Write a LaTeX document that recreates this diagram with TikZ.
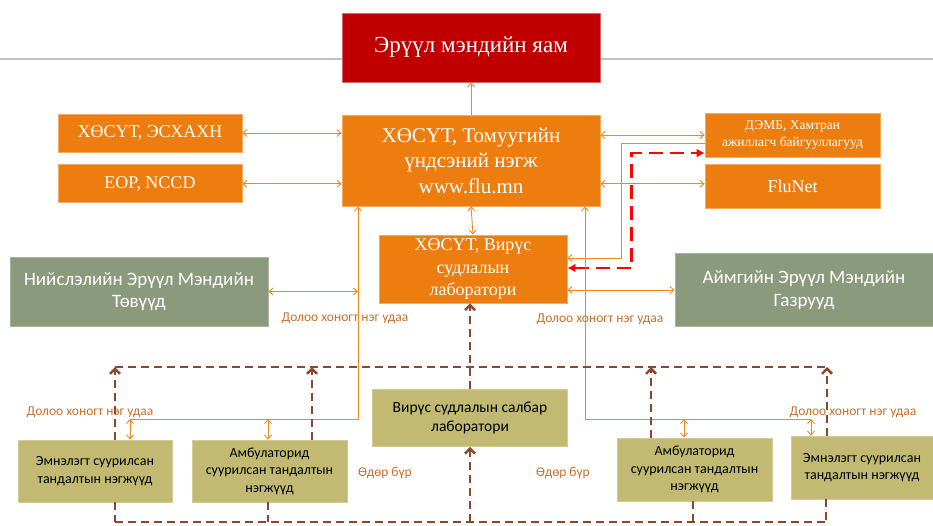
\documentclass[tikz,border=0pt]{standalone}
\usepackage{fontspec}
\setmainfont{Liberation Serif}
\setsansfont{Carlito}
\usetikzlibrary{arrows.meta,positioning}
\definecolor{moh}{RGB}{192, 0, 0}
\definecolor{orng}{RGB}{236, 125, 14}
\definecolor{sage}{RGB}{139, 154, 124}
\definecolor{khaki}{RGB}{194, 186, 114}
\definecolor{link}{RGB}{237, 137, 30}
\definecolor{brwn}{RGB}{140, 72, 44}
\definecolor{note}{RGB}{205, 110, 40}
\tikzstyle{mohbox} = [rectangle, fill=moh, draw=moh!60!white, line width=0.8pt, text=white, font=\fontsize{23}{27}\selectfont, align=center]
\tikzstyle{serifbox} = [rectangle, fill=orng, draw=orng!65!white, line width=0.8pt, text=white, font=\fontsize{18}{22.5}\selectfont, align=center]
\tikzstyle{sagebox} = [rectangle, fill=sage, draw=sage!75!white, line width=0.8pt, text=white, font=\sffamily\fontsize{19}{22.5}\selectfont, align=center]
\tikzstyle{unit} = [rectangle, fill=khaki, draw=khaki!75!white, line width=0.8pt, text=black, font=\sffamily\fontsize{14}{17.5}\selectfont, align=center]
\tikzstyle{freq} = [text=note, font=\sffamily\fontsize{13.5}{15}\selectfont, inner sep=1pt]
\tikzstyle{tedge} = [draw, link, line width=0.9pt, {Straight Barb[length=4pt,width=7pt]}-{Straight Barb[length=4pt,width=7pt]}]
\tikzstyle{oneway} = [draw, link, line width=0.9pt, -{Straight Barb[length=4pt,width=7pt]}]
\tikzstyle{report} = [draw, brwn, line width=2.5pt, dash pattern=on 8pt off 5pt, -{Straight Barb[length=5pt,width=10pt]}]
\tikzstyle{bus} = [draw, brwn, line width=2.5pt, dash pattern=on 8pt off 5pt]
\tikzstyle{urgent} = [draw, red, line width=2.5pt, dash pattern=on 14pt off 7pt, {Latex[length=8pt,width=9pt]}-{Latex[length=8pt,width=9pt]}]

\begin{document}
\begin{tikzpicture}[x=1pt, y=-1pt]
\useasboundingbox (0,0) rectangle (933,525);

% rule behind the ministry =============================
\coordinate (rulel) at (0,59);
\coordinate (ruler) at (933,59);
\draw[black!25, line width=1.5pt] (rulel) -- (ruler);

% national level
\node[mohbox, minimum width=258pt, minimum height=69pt] (moh) at (471,47.5) {Эрүүл мэндийн яам};
\node[serifbox, minimum width=258pt, minimum height=91pt, font=\fontsize{21}{25.5}\selectfont] (main) at (471,160.5) {ХӨСҮТ, Томуугийн\\үндсэний нэгж\\www.flu.mn};
\node[serifbox, minimum width=184pt, minimum height=38pt] (esx) at (150,133) {ХӨСҮТ, ЭСХАХН};
\node[serifbox, minimum width=184pt, minimum height=38pt, below=12pt of esx] (eop) {EOP, NCCD};
\node[serifbox, minimum width=175pt, minimum height=44pt, font=\fontsize{13.5}{17}\selectfont] (who) at (792.5,135) {ДЭМБ, Хамтран\\ажиллагч байгууллагууд};
\node[serifbox, minimum width=175pt, minimum height=44pt, below=7pt of who] (flunet) {FluNet};
\node[serifbox, minimum width=188pt, minimum height=68pt] (lab) at (473,269) {ХӨСҮТ, Вирүс\\судлалын\\лаборатори};

% regional level
\node[sagebox, minimum width=258pt, minimum height=69pt] (nisl) at (139,291.5) {Нийслэлийн Эрүүл Мэндийн\\Төвүүд};
\node[sagebox, minimum width=258pt, minimum height=73pt] (aim) at (804,290) {Аймгийн Эрүүл Мэндийн\\Газрууд};

% surveillance units
\node[unit, minimum width=195pt, minimum height=57pt, font=\sffamily\fontsize{15.5}{18.5}\selectfont] (salbar) at (470,418) {Вирүс судлалын салбар\\лаборатори};
\node[unit, minimum width=154pt, minimum height=62pt] (emnL) at (95,471) {Эмнэлэгт суурилсан\\тандалтын нэгжүүд};
\node[unit, minimum width=155pt, minimum height=62pt] (ambL) at (269.5,471) {Амбулаторид\\суурилсан тандалтын\\нэгжүүд};
\node[unit, minimum width=155pt, minimum height=63pt] (ambR) at (694.5,469.5) {Амбулаторид\\суурилсан тандалтын\\нэгжүүд};
\node[unit, minimum width=142pt, minimum height=63pt] (emnR) at (862,467.5) {Эмнэлэгт суурилсан\\тандалтын нэгжүүд};

% frequency labels
\node[freq] (wk1) at (345,318) {Долоо хоногт нэг удаа};
\node[freq] (wk2) at (600,319) {Долоо хоногт нэг удаа};
\node[freq] (wk3) at (90,412) {Долоо хоногт нэг удаа};
\node[freq] (wk4) at (853,412) {Долоо хоногт нэг удаа};
\node[freq] (day1) at (385,473) {Өдөр бүр};
\node[freq] (day2) at (563,473) {Өдөр бүр};

% junctions
\coordinate (lend) at (130,419);
\coordinate (lmid) at (268,419);
\coordinate (lfeed) at (358,419);
\coordinate (rfeed) at (585,419);
\coordinate (rmid) at (684,419);
\coordinate (rend) at (811,419);
\coordinate (busL) at (115,367);
\coordinate (bus2) at (312,367);
\coordinate (bus3) at (651,367);
\coordinate (busR) at (827,367);
\coordinate (botL) at (115,522);
\coordinate (bot2) at (268,522);
\coordinate (bot3) at (693,522);
\coordinate (botR) at (826,522);

%edges
\path[oneway] (main.north) -- (moh.south);
\path[tedge] (esx.east) -- (esx.east -| main.west);
\path[tedge] (eop.east) -- (eop.east -| main.west);
\path[tedge] (main.east |- who.west) -- (who.west);
\path[tedge] ([yshift=3pt]main.east |- flunet.west) -- ([yshift=3pt]flunet.west);
\path[tedge] (main.south) -- (lab.north);
\path[oneway] ([yshift=-8pt]who.west) -- ++(-83,0) |- ([yshift=11pt]lab.east);
\path[urgent] ([yshift=1pt]lab.east) -- ++(64,0) |- ([yshift=-18pt]who.west);
\path[tedge] (aim.west) -- (aim.west -| lab.east);

\path[oneway] (lend) -- (lfeed) -- (lfeed |- main.south);
\path[oneway] (rend) -- (rfeed) -- (rfeed |- main.south);
\path[tedge] (nisl.east) -- (nisl.east -| lfeed);
\path[tedge] (lend) -- (lend |- emnL.north);
\path[tedge] (lmid) -- (lmid |- ambL.north);
\path[tedge] (rmid) -- (rmid |- ambR.north);
\path[tedge] (rend) -- (rend |- emnR.north);

\path[bus] (busL) -- (busR);
\path[report] (busL |- emnL.north) -- (busL);
\path[report] (bus2 |- ambL.north) -- (bus2);
\path[report] (bus3 |- ambR.north) -- (bus3);
\path[report] (busR |- emnR.north) -- (busR);
\path[report] (salbar.north) -- (salbar.north |- lab.south);

\path[bus] (botL) -- (botR);
\path[bus] (botL |- emnL.south) -- (botL);
\path[bus] (bot2 |- ambL.south) -- (bot2);
\path[bus] (bot3 |- ambR.south) -- (bot3);
\path[bus] (botR |- emnR.south) -- (botR);
\path[report] (salbar.south |- botL) -- (salbar.south);

\end{tikzpicture}
\end{document}
